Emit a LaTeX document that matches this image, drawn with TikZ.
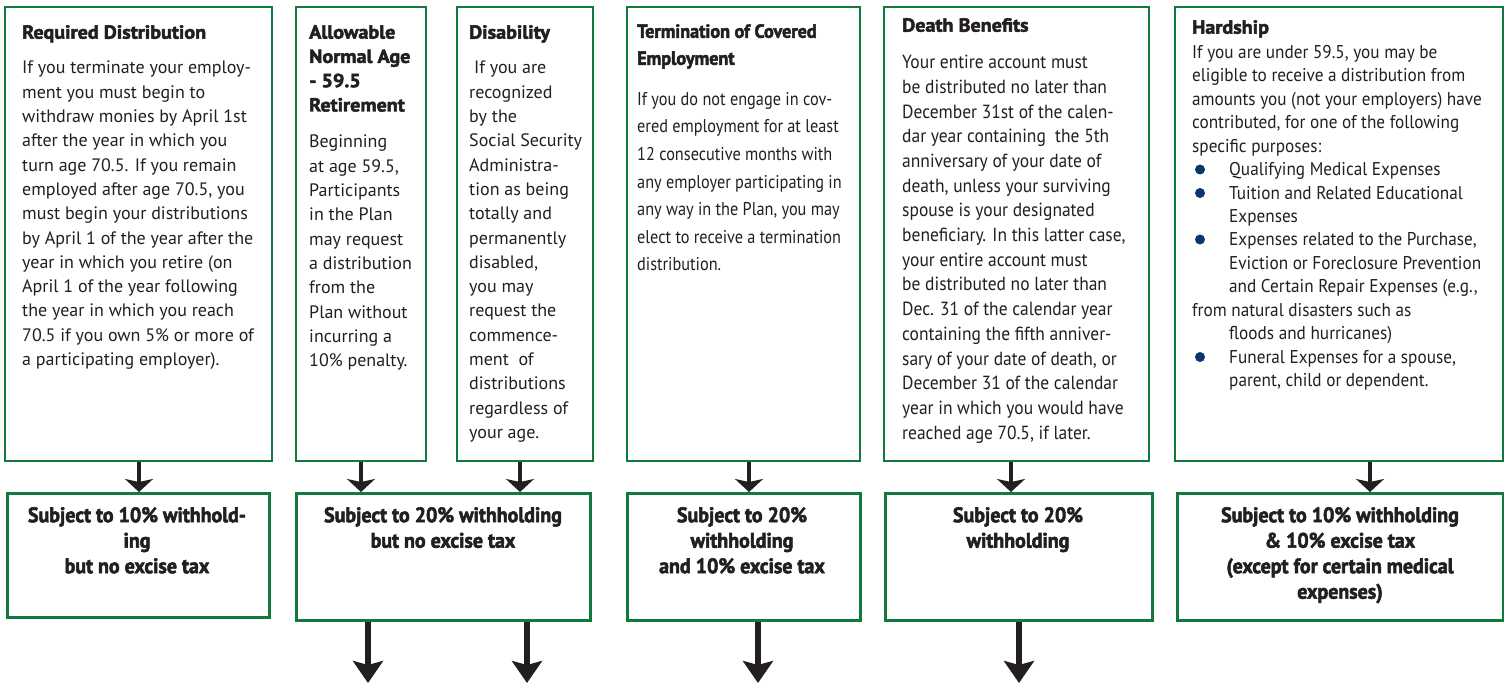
\documentclass[tikz,border=0pt]{standalone}
\usepackage{fontspec}
\usetikzlibrary{arrows.meta}
\setmainfont{PT Sans}
\newfontfamily\bodyfont{PT Sans}
\newfontfamily\condfont[FakeStretch=0.88]{PT Sans}
\newfontfamily\condfontb[FakeStretch=0.92]{PT Sans}
\newfontfamily\condfontc[FakeStretch=0.93]{PT Sans}
\newfontfamily\headfont[FakeStretch=1.06,BoldFeatures={FakeBold=2.5}]{PT Sans}
\newfontfamily\headfontc[FakeStretch=0.955,BoldFeatures={FakeBold=2.5}]{PT Sans}
\newfontfamily\boxfont[FakeStretch=0.95,BoldFeatures={FakeBold=2.5}]{PT Sans}
\definecolor{pgreen}{HTML}{117A3E}
\definecolor{ink}{HTML}{231F20}
\definecolor{navy}{HTML}{0D356B}
\tikzset{
  tbox/.style={draw=pgreen, line width=2.2pt, inner sep=0pt, anchor=north west},
  ubox/.style={draw=pgreen, line width=2.6pt, inner sep=0pt, anchor=north west},
  ttl/.style={anchor=north west, inner sep=0pt, align=left, text=ink, font=\headfont\bfseries\fontsize{19}{24.3}\selectfont},
  bdy/.style={anchor=north west, inner sep=0pt, align=left, text=ink, font=\bodyfont\fontsize{18}{24.3}\selectfont},
  cbdy/.style={anchor=north west, inner sep=0pt, align=left, text=ink, font=\condfont\fontsize{18}{24.7}\selectfont},
  utxt/.style={anchor=north, inner sep=0pt, align=center, text=ink, font=\boxfont\bfseries\fontsize{21}{25.5}\selectfont},
  tarrow/.style={draw=ink, line width=4pt, -{Stealth[length=13pt,width=28pt,inset=3pt]}},
  barrow/.style={draw=ink, line width=6pt, -{Stealth[length=22pt,width=30pt,inset=4pt]}},
}
\begin{document}
\begin{tikzpicture}[x=1pt,y=-1pt]
\useasboundingbox[fill=white] (0,0) rectangle (1504,683);

% top boxes
\node[tbox, minimum width=267pt, minimum height=454pt] (t1) at (4,6) {};
\node[tbox, minimum width=130pt, minimum height=454pt] (t2) at (295,6) {};
\node[tbox, minimum width=136pt, minimum height=454pt] (t3) at (456,6) {};
\node[tbox, minimum width=233pt, minimum height=454pt] (t4) at (626,6) {};
\node[tbox, minimum width=265pt, minimum height=454pt] (t5) at (883,6) {};
\node[tbox, minimum width=328pt, minimum height=454pt] (t6) at (1174,6) {};

% bottom boxes
\node[ubox, minimum width=262pt, minimum height=124pt] (u1) at (6,492) {};
\node[ubox, minimum width=294pt, minimum height=127pt] (u2) at (295,492) {};
\node[ubox, minimum width=233pt, minimum height=127pt] (u3) at (626,492) {};
\node[ubox, minimum width=267pt, minimum height=127pt] (u4) at (884,492) {};
\node[ubox, minimum width=326pt, minimum height=127pt] (u5) at (1176,492) {};

% texts box 1
\node[ttl] (t1h) at (22,25) {Required Distribution};
\node[bdy] (t1b) at (22,61) {If you terminate your employ-\\
ment you must begin to\\
withdraw monies by April 1st\\
after the year in which you\\
turn age 70.5. If you remain\\
employed after age 70.5, you\\
must begin your distributions\\
by April 1 of the year after the\\
year in which you retire (on\\
April 1 of the year following\\
the year in which you reach\\
70.5 if you own 5\% or more of\\
a participating employer).};

% box 2
\node[ttl] (t2h) at (309,25) {Allowable\\Normal Age\\- 59.5\\Retirement};
\node[bdy] (t2b) at (309,135) {Beginning\\at age 59.5,\\Participants\\in the Plan\\may request\\a distribution\\from the\\Plan without\\incurring a\\10\% penalty.};

% box 3
\node[ttl] (t3h) at (469,25) {Disability};
\node[bdy] (t3b) at (469,61) {\ If you are\\recognized\\by the\\Social Security\\Administra-\\tion as being\\totally and\\permanently\\disabled,\\you may\\request the\\commence-\\ment\ \ of\\distributions\\regardless of\\your age.};

% box 4
\node[ttl, font=\headfontc\bfseries\fontsize{19}{27}\selectfont] (t4h) at (637,24) {Termination of Covered\\Employment};
\node[cbdy, font=\condfont\fontsize{18.5}{27.6}\selectfont] (t4b) at (637,92) {If you do not engage in cov-\\ered employment for at least\\12 consecutive months with\\any employer participating in\\any way in the Plan, you may\\elect to receive a termination\\distribution.};

% box 5
\node[ttl] (t5h) at (902,18) {Death Benefits};
\node[cbdy, font=\condfontb\fontsize{19}{24.7}\selectfont] (t5b) at (902,55) {Your entire account must\\be distributed no later than\\December 31st of the calen-\\dar year containing\ \ the 5th\\anniversary of your date of\\death, unless your surviving\\spouse is your designated\\beneficiary. In this latter case,\\your entire account must\\be distributed no later than\\Dec. 31 of the calendar year\\containing the fifth anniver-\\sary of your date of death, or\\December 31 of the calendar\\year in which you would have\\reached age 70.5, if later.};

% box 6
\node[ttl] (t6h) at (1192,20) {Hardship};
\node[cbdy, font=\condfontc\fontsize{18.5}{23.45}\selectfont] (t6b) at (1192,45) {If you are under 59.5, you may be\\eligible to receive a distribution from\\amounts you (not your employers) have\\contributed, for one of the following\\specific purposes:\\
\hspace*{37pt}Qualifying Medical Expenses\\
\hspace*{37pt}Tuition and Related Educational\\
\hspace*{37pt}Expenses\\
\hspace*{37pt}Expenses related to the Purchase,\\
\hspace*{37pt}Eviction or Foreclosure Prevention\\
\hspace*{37pt}and Certain Repair Expenses (e.g.,\\
from natural disasters such as\\
\hspace*{37pt}floods and hurricanes)\\
\hspace*{37pt}Funeral Expenses for a spouse,\\
\hspace*{37pt}parent, child or dependent.};
\foreach \yy in {169.5,193,239.5,357}{\fill[navy] (1200,\yy) circle (5pt);}

% bottom texts
\node[utxt] (u1t) at (137,507) {Subject to 10\% withhold-\\ing\\but no excise tax};
\node[utxt] (u2t) at (443,507) {Subject to 20\% withholding\\but no excise tax};
\node[utxt] (u3t) at (742,507) {Subject to 20\%\\withholding\\and 10\% excise tax};
\node[utxt] (u4t) at (1018,507) {Subject to 20\%\\withholding};
\node[utxt] (u5t) at (1340,507) {Subject to 10\% withholding\\\& 10\% excise tax\\(except for certain medical\\expenses)};

% arrows top -> bottom
\coordinate (a1) at (139,0);
\coordinate (a2) at (361,0);
\coordinate (a3) at (520,0);
\coordinate (a4) at (749,0);
\coordinate (a5) at (1011,0);
\coordinate (a6) at (1370,0);
\draw[tarrow] (t1.south -| a1) -- (u1.north -| a1);
\draw[tarrow] (t2.south -| a2) -- (u2.north -| a2);
\draw[tarrow] (t3.south -| a3) -- (u2.north -| a3);
\draw[tarrow] (t4.south -| a4) -- (u3.north -| a4);
\draw[tarrow] (t5.south -| a5) -- (u4.north -| a5);
\draw[tarrow] (t6.south -| a6) -- (u5.north -| a6);

% outgoing arrows
\coordinate (e1) at (368,683);
\coordinate (e2) at (527,683);
\coordinate (e3) at (758,683);
\coordinate (e4) at (1019,683);
\draw[barrow] (u2.south -| e1) -- (e1);
\draw[barrow] (u2.south -| e2) -- (e2);
\draw[barrow] (u3.south -| e3) -- (e3);
\draw[barrow] (u4.south -| e4) -- (e4);
\end{tikzpicture}
\end{document}
